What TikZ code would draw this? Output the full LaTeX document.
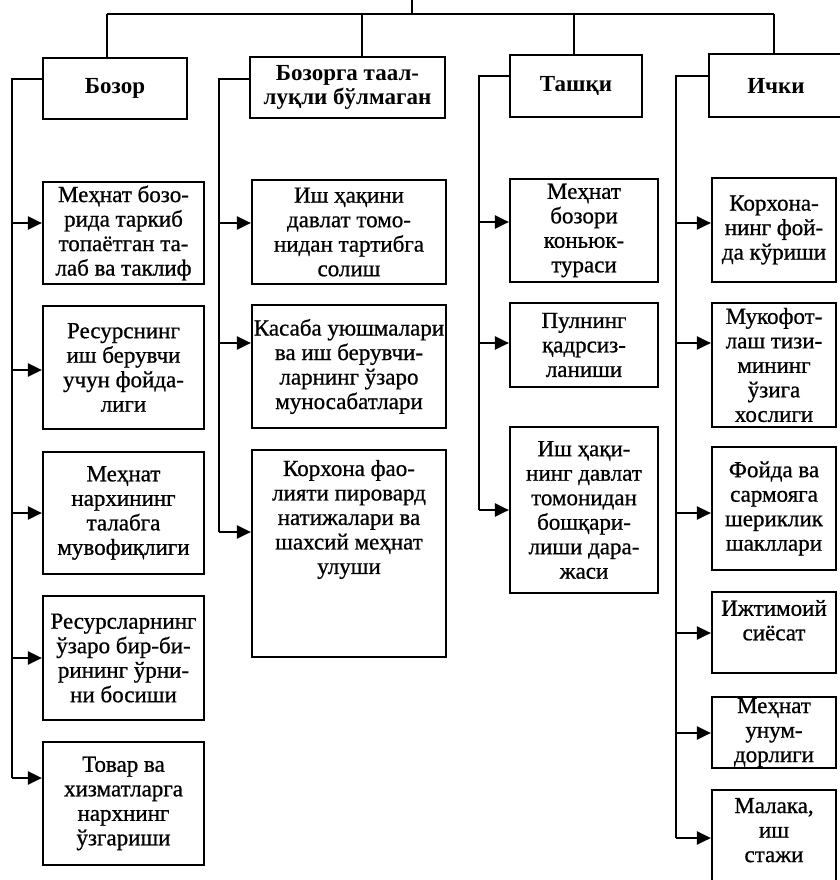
\documentclass[tikz,border=0pt]{standalone}
\usepackage{fontspec}
\setmainfont{Liberation Serif}
\newfontfamily\bodyfont[FakeBold=0.8]{Liberation Serif}
\usetikzlibrary{arrows.meta}
\begin{document}
\begin{tikzpicture}[x=1pt,y=-1pt,
  line width=2.2pt,
  box/.style={draw, rectangle, inner sep=0pt, align=center, font=\bodyfont\fontsize{23}{24.5}\selectfont},
  head/.style={box, font=\bfseries\fontsize{23}{24.5}\selectfont},
  txt/.style={inner sep=0pt, align=center, font=\bodyfont\fontsize{23}{24.5}\selectfont},
  arr/.style={-{Triangle[length=14pt,width=13pt]}}]
\useasboundingbox (0,0) rectangle (839,880);
% headers
\node[head, minimum width=144pt, minimum height=61pt] (H1) at (115,88.5) {Бозор};
\node[head, minimum width=195pt, minimum height=61pt] (H2) at (347.5,87.5) {Бозорга таал-\\луқли бўлмаган};
\node[head, minimum width=132pt, minimum height=62pt] (H3) at (576,86) {Ташқи};
\node[head, minimum width=134pt, minimum height=63pt] (H4) at (776,85.5) {Ички};
% top tree
\coordinate (top) at (412,-2);
\coordinate (j1) at (107,14);
\coordinate (j2) at (362,14);
\coordinate (j3) at (574,14);
\coordinate (j4) at (774,14);
\draw (top) -- (top |- j1);
\draw (j1) -- (j4);
\draw (j1) -- (j1 |- H1.north);
\draw (j2) -- (j2 |- H2.north);
\draw (j3) -- (j3 |- H3.north);
\draw (j4) -- (j4 |- H4.north);
% column 1
\node[box, minimum width=161pt, minimum height=102pt] (a1) at (123.5,233) {Меҳнат бозо-\\рида таркиб\\топаётган та-\\лаб ва таклиф};
\node[box, minimum width=161pt, minimum height=123pt] (a2) at (123.5,367.5) {Ресурснинг\\иш берувчи\\учун фойда-\\лиги};
\node[box, minimum width=161pt, minimum height=122pt] (a3) at (123.5,513) {Меҳнат\\нархининг\\талабга\\мувофиқлиги};
\node[box, minimum width=161pt, minimum height=124pt] (a4) at (123.5,658) {Ресурсларнинг\\ўзаро бир-би-\\рининг ўрни-\\ни босиши};
\node[box, minimum width=161pt, minimum height=123pt] (a5) at (123.5,803.5) {Товар ва\\хизматларга\\нархнинг\\ўзгариши};
\coordinate (c1) at (12,79);
\draw (H1.west |- c1) -- (c1) -- (12,778);
\draw[arr] (c1 |- 0,223) -- (a1.west |- 0,223);
\draw[arr] (c1 |- 0,370) -- (a2.west |- 0,370);
\draw[arr] (c1 |- 0,513) -- (a3.west |- 0,513);
\draw[arr] (c1 |- 0,658) -- (a4.west |- 0,658);
\draw[arr] (c1 |- 0,778) -- (a5.west |- 0,778);
% column 2
\node[box, minimum width=194pt, minimum height=104pt] (b1) at (349,232) {Иш ҳақини\\давлат томо-\\нидан тартибга\\солиш};
\node[box, minimum width=194pt, minimum height=123pt] (b2) at (349,366.5) {Касаба уюшмалари\\ва иш берувчи-\\ларнинг ўзаро\\муносабатлари};
\node[box, minimum width=194pt, minimum height=207pt] (b3) at (349,553.5) {};
\node[txt, anchor=north] (b3t) at ([yshift=-10pt]b3.north) {Корхона фао-\\лияти пировард\\натижалари ва\\шахсий меҳнат\\улуши};
\coordinate (c2) at (219,79);
\draw (H2.west |- c2) -- (c2) -- (219,532);
\draw[arr] (c2 |- 0,223) -- (b1.west |- 0,223);
\draw[arr] (c2 |- 0,343) -- (b2.west |- 0,343);
\draw[arr] (c2 |- 0,532) -- (b3.west |- 0,532);
% column 3
\node[box, minimum width=148pt, minimum height=103pt] (d1) at (584,230.5) {Меҳнат\\бозори\\коньюк-\\тураси};
\node[box, minimum width=148pt, minimum height=84pt] (d2) at (584,345) {Пулнинг\\қадрсиз-\\ланиши};
\node[box, minimum width=148pt, minimum height=166pt] (d3) at (584,510) {Иш ҳақи-\\нинг давлат\\томонидан\\бошқари-\\лиши дара-\\жаси};
\coordinate (c3) at (479,76);
\draw (H3.west |- c3) -- (c3) -- (479,510);
\draw[arr] (c3 |- 0,222) -- (d1.west |- 0,222);
\draw[arr] (c3 |- 0,343) -- (d2.west |- 0,343);
\draw[arr] (c3 |- 0,510) -- (d3.west |- 0,510);
% column 4
\node[box, minimum width=124pt, minimum height=104pt] (e1) at (774,230) {Корхона-\\нинг фой-\\да кўриши};
\node[box, minimum width=124pt, minimum height=124pt] (e2) at (774,365) {Мукофот-\\лаш тизи-\\мининг\\ўзига\\хослиги};
\node[box, minimum width=124pt, minimum height=123pt] (e3) at (774,508.5) {Фойда ва\\сармояга\\шериклик\\шакллари};
\node[box, minimum width=124pt, minimum height=81pt] (e4) at (774,632.5) {};
\node[txt, anchor=north] (e4t) at ([yshift=-8pt]e4.north) {Ижтимоий\\сиёсат};
\node[box, minimum width=124pt, minimum height=71pt] (e5) at (774,732.5) {Меҳнат\\унум-\\дорлиги};
\node[box, minimum width=124pt, minimum height=110pt] (e6) at (774,845) {};
\node[txt, anchor=north] (e6t) at ([yshift=-8pt]e6.north) {Малака,\\иш\\стажи};
\coordinate (c4) at (676,76);
\draw (H4.west |- c4) -- (c4) -- (676,838);
\draw[arr] (c4 |- 0,223) -- (e1.west |- 0,223);
\draw[arr] (c4 |- 0,343) -- (e2.west |- 0,343);
\draw[arr] (c4 |- 0,513) -- (e3.west |- 0,513);
\draw[arr] (c4 |- 0,633) -- (e4.west |- 0,633);
\draw[arr] (c4 |- 0,733) -- (e5.west |- 0,733);
\draw[arr] (c4 |- 0,838) -- (e6.west |- 0,838);
\end{tikzpicture}
\end{document}
